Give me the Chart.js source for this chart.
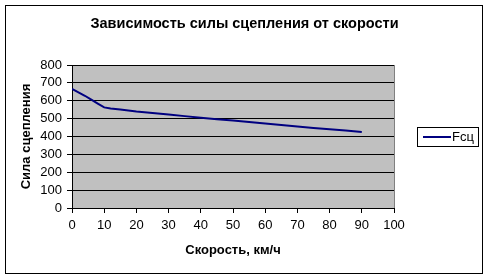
<!DOCTYPE html>
<html>
<head>
<meta charset="utf-8">
<script src="https://cdn.jsdelivr.net/npm/chart.js@4"></script>
<style>
html,body{margin:0;padding:0;background:#fff;}
#wrap{width:489px;height:279px;position:relative;}
</style>
</head>
<body>
<div id="wrap"><canvas id="c" width="489" height="279"></canvas></div>
<script>
const speeds = [0, 2, 4, 6, 8, 10, 12, 15, 20, 25, 30, 35, 40, 45, 50, 55, 60, 65, 70, 75, 80, 85, 90];
const forces = [666, 647, 628, 606, 584, 563, 557, 551, 540, 532, 523, 514, 505, 497, 490, 481, 473, 465, 456, 448, 441, 433, 425];
const seriesName = 'Fсц';
const chartTitle = 'Зависимость силы сцепления от скорости';
const xTitle = 'Скорость, км/ч';
const yTitle = 'Сила сцепления';

const FONT = '"Liberation Sans", Arial, sans-serif';

const decor = {
  id: 'decor',
  beforeDraw(chart) {
    const ctx = chart.ctx;
    const a = chart.chartArea;
    ctx.save();
    ctx.fillStyle = '#ffffff';
    ctx.fillRect(0, 0, chart.width, chart.height);
    ctx.strokeStyle = '#000000';
    ctx.lineWidth = 1;
    ctx.strokeRect(5.5, 5.5, 477, 268);
    ctx.fillStyle = '#C0C0C0';
    ctx.fillRect(a.left, a.top, a.right - a.left, a.bottom - a.top);
    ctx.strokeStyle = '#808080';
    ctx.strokeRect(a.left + 0.5, a.top + 0.5, a.right - a.left, a.bottom - a.top);
    ctx.restore();
  },
  afterDraw(chart) {
    const ctx = chart.ctx;
    const ds = chart.data.datasets[0];
    ctx.save();
    ctx.strokeStyle = '#000000';
    ctx.lineWidth = 1;
    ctx.strokeRect(417.5, 127.5, 61, 19);
    ctx.strokeStyle = ds.borderColor;
    ctx.lineWidth = 2;
    ctx.beginPath();
    ctx.moveTo(423, 137);
    ctx.lineTo(451, 137);
    ctx.stroke();
    ctx.fillStyle = '#000000';
    ctx.font = '13px ' + FONT;
    ctx.textBaseline = 'middle';
    ctx.textAlign = 'left';
    ctx.fillText(ds.label, 452, 137.5);
    ctx.restore();
  }
};

new Chart(document.getElementById('c'), {
  type: 'line',
  data: {
    datasets: [{
      label: seriesName,
      data: speeds.map((s, i) => ({x: s, y: forces[i]})),
      borderColor: '#000080',
      borderWidth: 2,
      pointRadius: 0,
      tension: 0,
      fill: false
    }]
  },
  options: {
    responsive: false,
    animation: false,
    devicePixelRatio: 1,
    layout: {padding: 0},
    plugins: {
      legend: {display: false},
      tooltip: {enabled: false},
      title: {
        display: true,
        text: chartTitle,
        color: '#000',
        font: {family: FONT, size: 14.5, weight: 'bold', lineHeight: 1.2},
        padding: {top: 15, bottom: 32.6}
      }
    },
    scales: {
      x: {
        type: 'linear',
        min: 0, max: 100,
        ticks: {stepSize: 10, autoSkip: false, color: '#000', font: {family: FONT, size: 13}, padding: 5, maxRotation: 0},
        grid: {drawOnChartArea: false, drawTicks: true, tickLength: 5, color: '#000'},
        border: {color: '#000'},
        title: {display: true, text: xTitle, color: '#000', font: {family: FONT, size: 13, weight: 'bold', lineHeight: 1.2}, padding: {top: 0, bottom: 21}},
        afterFit(s) { s.height = 71; }
      },
      y: {
        min: 0, max: 800,
        ticks: {stepSize: 100, autoSkip: false, color: '#000', font: {family: FONT, size: 13}, padding: 5},
        grid: {color: '#000', drawTicks: true, tickLength: 5},
        border: {color: '#000'},
        title: {display: true, text: yTitle, color: '#000', font: {family: FONT, size: 13, weight: 'bold', lineHeight: 1.2}, padding: {top: 19, bottom: 0}},
        afterFit(s) { s.width = 72; }
      },
      yR: {
        position: 'right',
        display: true,
        ticks: {display: false},
        grid: {display: false},
        border: {display: false},
        afterFit(s) { s.width = 95; }
      }
    }
  },
  plugins: [decor]
});
</script>
</body>
</html>
